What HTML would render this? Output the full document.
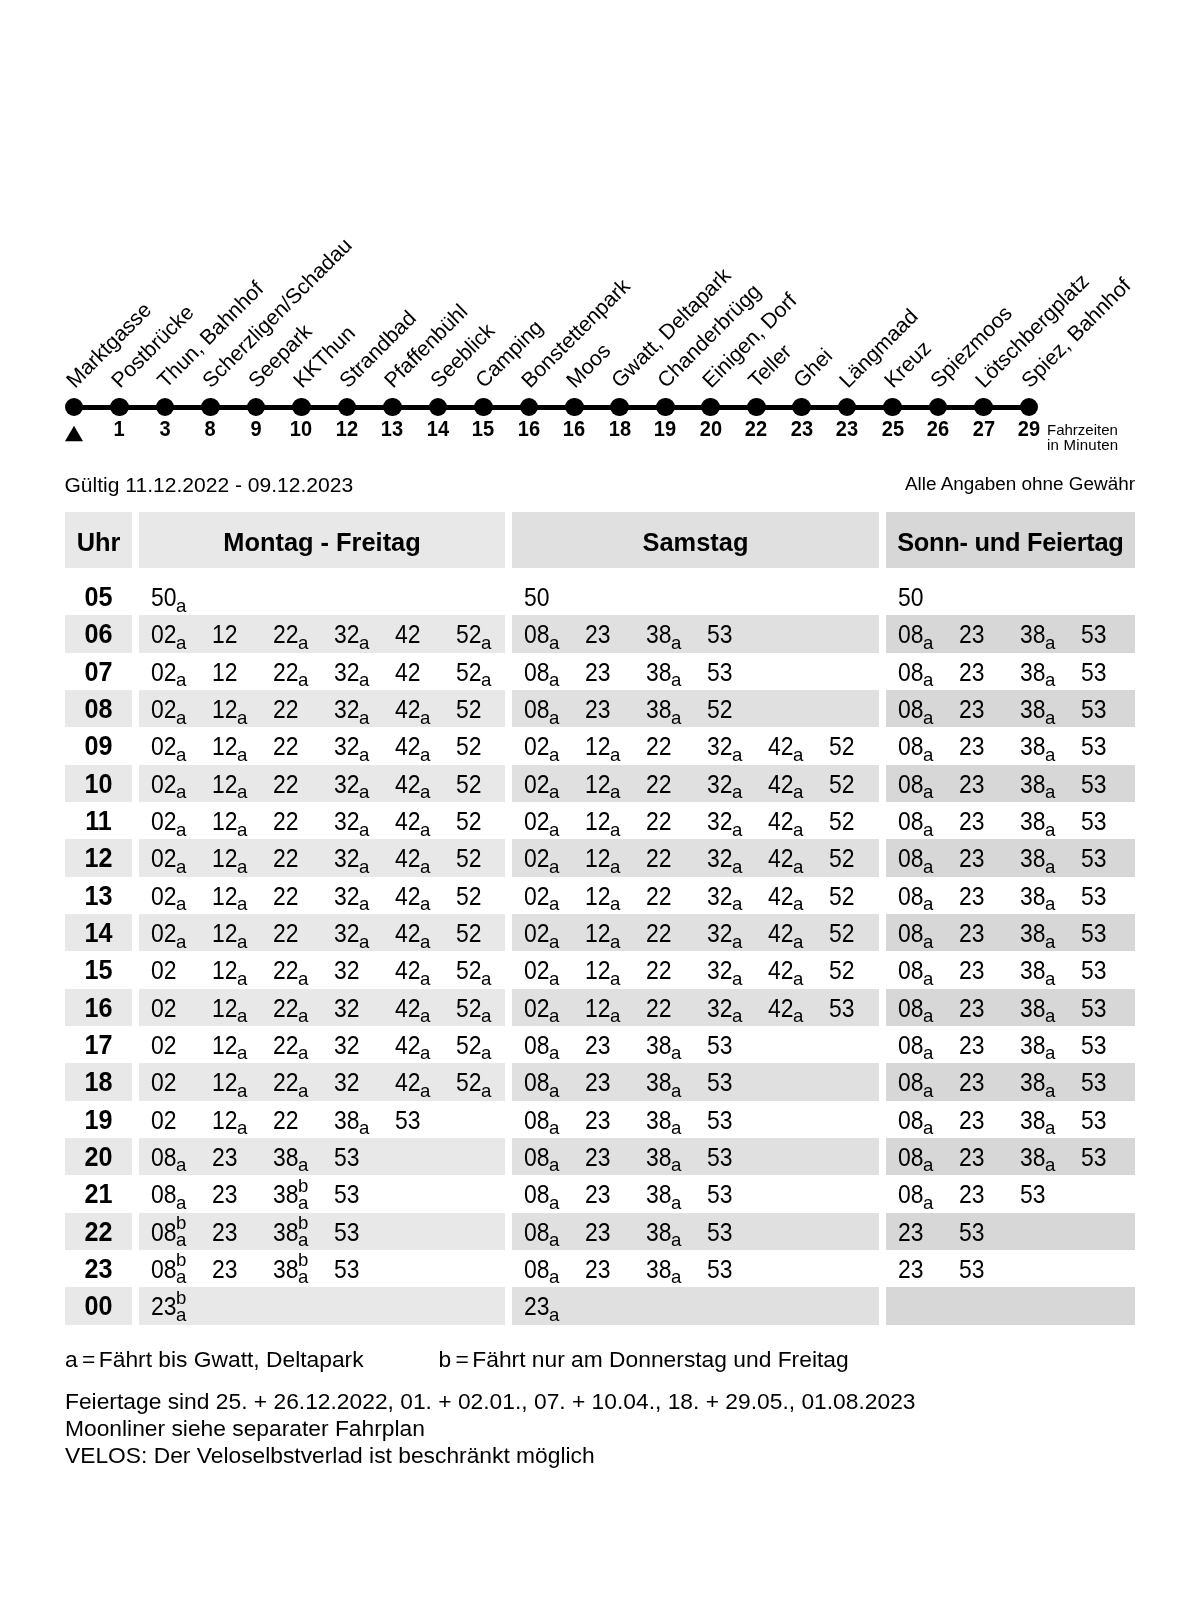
<!DOCTYPE html>
<html lang="de"><head><meta charset="utf-8"><title>Fahrplan</title>
<style>
html,body{margin:0;padding:0;background:#fff;}
body{width:1200px;height:1600px;position:relative;overflow:hidden;font-family:"Liberation Sans",sans-serif;color:#000;}
#sheet{position:absolute;left:0;top:0;width:1200px;height:1600px;will-change:transform;}
.abs{position:absolute;white-space:nowrap;}
.stop{position:absolute;white-space:nowrap;font-size:21.3px;line-height:20px;height:20px;transform-origin:0 100%;transform:rotate(-45deg);}
.dot{position:absolute;width:18.6px;height:18.6px;border-radius:50%;background:#000;top:397.9px;}
.min{position:absolute;width:40px;text-align:center;font-weight:bold;font-size:21.3px;line-height:20px;top:418.62px;transform:scaleX(.94);}
.bg{position:absolute;}
.hd{position:absolute;top:512px;height:56px;line-height:61px;text-align:center;font-weight:bold;font-size:25.4px;}
.hr{position:absolute;left:65px;width:67px;text-align:center;font-weight:bold;font-size:28.3px;line-height:30px;transform:scaleX(0.89);}
.t{position:absolute;font-size:25.2px;line-height:30px;height:30px;white-space:nowrap;}
.t b{font-weight:normal;display:inline-block;transform-origin:0 50%;transform:scaleX(0.91);}
.t i{font-style:normal;font-size:18.6px;position:absolute;left:25.2px;line-height:20px;}
.t i.a{top:13.49px;}
.t i.b{top:-3.51px;}
.ft{position:absolute;left:65px;font-size:22.8px;line-height:27.3px;white-space:nowrap;}
.ft u{text-decoration:none;margin:0 3.6px 0 4.2px;}
</style></head><body><div id="sheet">

<div class="bg" style="left:74px;top:404.9px;width:955px;height:4.8px;background:#000"></div>
<div class="dot" style="left:64.70px"></div>
<div class="stop" style="left:76.70px;top:371.10px">Marktgasse</div>
<div class="dot" style="left:110.18px"></div>
<div class="stop" style="left:122.18px;top:371.10px">Postbrücke</div>
<div class="min" style="left:99.48px">1</div>
<div class="dot" style="left:155.66px"></div>
<div class="stop" style="left:167.66px;top:371.10px">Thun, Bahnhof</div>
<div class="min" style="left:144.96px">3</div>
<div class="dot" style="left:201.14px"></div>
<div class="stop" style="left:213.14px;top:371.10px">Scherzligen/Schadau</div>
<div class="min" style="left:190.44px">8</div>
<div class="dot" style="left:246.62px"></div>
<div class="stop" style="left:258.62px;top:371.10px">Seepark</div>
<div class="min" style="left:235.92px">9</div>
<div class="dot" style="left:292.10px"></div>
<div class="stop" style="left:304.10px;top:371.10px">KKThun</div>
<div class="min" style="left:281.40px">10</div>
<div class="dot" style="left:337.59px"></div>
<div class="stop" style="left:349.59px;top:371.10px">Strandbad</div>
<div class="min" style="left:326.89px">12</div>
<div class="dot" style="left:383.07px"></div>
<div class="stop" style="left:395.07px;top:371.10px">Pfaffenbühl</div>
<div class="min" style="left:372.37px">13</div>
<div class="dot" style="left:428.55px"></div>
<div class="stop" style="left:440.55px;top:371.10px">Seeblick</div>
<div class="min" style="left:417.85px">14</div>
<div class="dot" style="left:474.03px"></div>
<div class="stop" style="left:486.03px;top:371.10px">Camping</div>
<div class="min" style="left:463.33px">15</div>
<div class="dot" style="left:519.51px"></div>
<div class="stop" style="left:531.51px;top:371.10px">Bonstettenpark</div>
<div class="min" style="left:508.81px">16</div>
<div class="dot" style="left:564.99px"></div>
<div class="stop" style="left:576.99px;top:371.10px">Moos</div>
<div class="min" style="left:554.29px">16</div>
<div class="dot" style="left:610.47px"></div>
<div class="stop" style="left:622.47px;top:371.10px">Gwatt, Deltapark</div>
<div class="min" style="left:599.77px">18</div>
<div class="dot" style="left:655.95px"></div>
<div class="stop" style="left:667.95px;top:371.10px">Chanderbrügg</div>
<div class="min" style="left:645.25px">19</div>
<div class="dot" style="left:701.43px"></div>
<div class="stop" style="left:713.43px;top:371.10px">Einigen, Dorf</div>
<div class="min" style="left:690.73px">20</div>
<div class="dot" style="left:746.91px"></div>
<div class="stop" style="left:758.91px;top:371.10px">Teller</div>
<div class="min" style="left:736.21px">22</div>
<div class="dot" style="left:792.40px"></div>
<div class="stop" style="left:804.40px;top:371.10px">Ghei</div>
<div class="min" style="left:781.70px">23</div>
<div class="dot" style="left:837.88px"></div>
<div class="stop" style="left:849.88px;top:371.10px">Längmaad</div>
<div class="min" style="left:827.18px">23</div>
<div class="dot" style="left:883.36px"></div>
<div class="stop" style="left:895.36px;top:371.10px">Kreuz</div>
<div class="min" style="left:872.66px">25</div>
<div class="dot" style="left:928.84px"></div>
<div class="stop" style="left:940.84px;top:371.10px">Spiezmoos</div>
<div class="min" style="left:918.14px">26</div>
<div class="dot" style="left:974.32px"></div>
<div class="stop" style="left:986.32px;top:371.10px">Lötschbergplatz</div>
<div class="min" style="left:963.62px">27</div>
<div class="dot" style="left:1019.80px"></div>
<div class="stop" style="left:1031.80px;top:371.10px">Spiez, Bahnhof</div>
<div class="min" style="left:1009.10px">29</div>
<svg class="abs" style="left:64px;top:424px" width="20" height="18" viewBox="0 0 20 18"><polygon points="10,1.7 19,17.2 1,17.2" fill="#000"/></svg>
<div class="abs" style="left:1047px;top:421.60px;font-size:15px;line-height:15px">Fahrzeiten<br><span style="letter-spacing:.22px">in Minuten</span></div>
<div class="abs" style="left:64.5px;top:473.11px;font-size:21.05px;line-height:24px">Gültig 11.12.2022 - 09.12.2023</div>
<div class="abs" style="right:65px;top:471.95px;font-size:18.9px;line-height:24px">Alle Angaben ohne Gewähr</div>
<div class="hd" style="left:65px;width:67px;background:#e8e8e8">Uhr</div>
<div class="hd" style="left:138.8px;width:366.4px;background:#e8e8e8">Montag - Freitag</div>
<div class="hd" style="left:512.1px;width:366.8px;background:#e0e0e0">Samstag</div>
<div class="hd" style="left:885.6px;width:249.6px;background:#d7d7d7;letter-spacing:-0.27px">Sonn- und Feiertag</div>
<div class="hr" style="top:581.09px">05</div>
<div class="t" style="left:150.9px;top:582.17px"><b>50</b><i class="a">a</i></div>
<div class="t" style="left:523.9px;top:582.17px"><b>50</b></div>
<div class="t" style="left:897.9px;top:582.17px"><b>50</b></div>
<div class="bg" style="left:65px;top:615.42px;width:67px;height:37.4px;background:#e8e8e8"></div>
<div class="bg" style="left:138.8px;top:615.42px;width:366.4px;height:37.4px;background:#e8e8e8"></div>
<div class="bg" style="left:512.1px;top:615.42px;width:366.8px;height:37.4px;background:#e0e0e0"></div>
<div class="bg" style="left:885.6px;top:615.42px;width:249.6px;height:37.4px;background:#d7d7d7"></div>
<div class="hr" style="top:618.41px">06</div>
<div class="t" style="left:150.9px;top:619.49px"><b>02</b><i class="a">a</i></div>
<div class="t" style="left:211.9px;top:619.49px"><b>12</b></div>
<div class="t" style="left:272.9px;top:619.49px"><b>22</b><i class="a">a</i></div>
<div class="t" style="left:333.9px;top:619.49px"><b>32</b><i class="a">a</i></div>
<div class="t" style="left:394.9px;top:619.49px"><b>42</b></div>
<div class="t" style="left:455.9px;top:619.49px"><b>52</b><i class="a">a</i></div>
<div class="t" style="left:523.9px;top:619.49px"><b>08</b><i class="a">a</i></div>
<div class="t" style="left:584.9px;top:619.49px"><b>23</b></div>
<div class="t" style="left:645.9px;top:619.49px"><b>38</b><i class="a">a</i></div>
<div class="t" style="left:706.9px;top:619.49px"><b>53</b></div>
<div class="t" style="left:897.9px;top:619.49px"><b>08</b><i class="a">a</i></div>
<div class="t" style="left:958.9px;top:619.49px"><b>23</b></div>
<div class="t" style="left:1019.9px;top:619.49px"><b>38</b><i class="a">a</i></div>
<div class="t" style="left:1080.9px;top:619.49px"><b>53</b></div>
<div class="hr" style="top:655.73px">07</div>
<div class="t" style="left:150.9px;top:656.81px"><b>02</b><i class="a">a</i></div>
<div class="t" style="left:211.9px;top:656.81px"><b>12</b></div>
<div class="t" style="left:272.9px;top:656.81px"><b>22</b><i class="a">a</i></div>
<div class="t" style="left:333.9px;top:656.81px"><b>32</b><i class="a">a</i></div>
<div class="t" style="left:394.9px;top:656.81px"><b>42</b></div>
<div class="t" style="left:455.9px;top:656.81px"><b>52</b><i class="a">a</i></div>
<div class="t" style="left:523.9px;top:656.81px"><b>08</b><i class="a">a</i></div>
<div class="t" style="left:584.9px;top:656.81px"><b>23</b></div>
<div class="t" style="left:645.9px;top:656.81px"><b>38</b><i class="a">a</i></div>
<div class="t" style="left:706.9px;top:656.81px"><b>53</b></div>
<div class="t" style="left:897.9px;top:656.81px"><b>08</b><i class="a">a</i></div>
<div class="t" style="left:958.9px;top:656.81px"><b>23</b></div>
<div class="t" style="left:1019.9px;top:656.81px"><b>38</b><i class="a">a</i></div>
<div class="t" style="left:1080.9px;top:656.81px"><b>53</b></div>
<div class="bg" style="left:65px;top:690.06px;width:67px;height:37.4px;background:#e8e8e8"></div>
<div class="bg" style="left:138.8px;top:690.06px;width:366.4px;height:37.4px;background:#e8e8e8"></div>
<div class="bg" style="left:512.1px;top:690.06px;width:366.8px;height:37.4px;background:#e0e0e0"></div>
<div class="bg" style="left:885.6px;top:690.06px;width:249.6px;height:37.4px;background:#d7d7d7"></div>
<div class="hr" style="top:693.05px">08</div>
<div class="t" style="left:150.9px;top:694.13px"><b>02</b><i class="a">a</i></div>
<div class="t" style="left:211.9px;top:694.13px"><b>12</b><i class="a">a</i></div>
<div class="t" style="left:272.9px;top:694.13px"><b>22</b></div>
<div class="t" style="left:333.9px;top:694.13px"><b>32</b><i class="a">a</i></div>
<div class="t" style="left:394.9px;top:694.13px"><b>42</b><i class="a">a</i></div>
<div class="t" style="left:455.9px;top:694.13px"><b>52</b></div>
<div class="t" style="left:523.9px;top:694.13px"><b>08</b><i class="a">a</i></div>
<div class="t" style="left:584.9px;top:694.13px"><b>23</b></div>
<div class="t" style="left:645.9px;top:694.13px"><b>38</b><i class="a">a</i></div>
<div class="t" style="left:706.9px;top:694.13px"><b>52</b></div>
<div class="t" style="left:897.9px;top:694.13px"><b>08</b><i class="a">a</i></div>
<div class="t" style="left:958.9px;top:694.13px"><b>23</b></div>
<div class="t" style="left:1019.9px;top:694.13px"><b>38</b><i class="a">a</i></div>
<div class="t" style="left:1080.9px;top:694.13px"><b>53</b></div>
<div class="hr" style="top:730.37px">09</div>
<div class="t" style="left:150.9px;top:731.45px"><b>02</b><i class="a">a</i></div>
<div class="t" style="left:211.9px;top:731.45px"><b>12</b><i class="a">a</i></div>
<div class="t" style="left:272.9px;top:731.45px"><b>22</b></div>
<div class="t" style="left:333.9px;top:731.45px"><b>32</b><i class="a">a</i></div>
<div class="t" style="left:394.9px;top:731.45px"><b>42</b><i class="a">a</i></div>
<div class="t" style="left:455.9px;top:731.45px"><b>52</b></div>
<div class="t" style="left:523.9px;top:731.45px"><b>02</b><i class="a">a</i></div>
<div class="t" style="left:584.9px;top:731.45px"><b>12</b><i class="a">a</i></div>
<div class="t" style="left:645.9px;top:731.45px"><b>22</b></div>
<div class="t" style="left:706.9px;top:731.45px"><b>32</b><i class="a">a</i></div>
<div class="t" style="left:767.9px;top:731.45px"><b>42</b><i class="a">a</i></div>
<div class="t" style="left:828.9px;top:731.45px"><b>52</b></div>
<div class="t" style="left:897.9px;top:731.45px"><b>08</b><i class="a">a</i></div>
<div class="t" style="left:958.9px;top:731.45px"><b>23</b></div>
<div class="t" style="left:1019.9px;top:731.45px"><b>38</b><i class="a">a</i></div>
<div class="t" style="left:1080.9px;top:731.45px"><b>53</b></div>
<div class="bg" style="left:65px;top:764.70px;width:67px;height:37.4px;background:#e8e8e8"></div>
<div class="bg" style="left:138.8px;top:764.70px;width:366.4px;height:37.4px;background:#e8e8e8"></div>
<div class="bg" style="left:512.1px;top:764.70px;width:366.8px;height:37.4px;background:#e0e0e0"></div>
<div class="bg" style="left:885.6px;top:764.70px;width:249.6px;height:37.4px;background:#d7d7d7"></div>
<div class="hr" style="top:767.69px">10</div>
<div class="t" style="left:150.9px;top:768.77px"><b>02</b><i class="a">a</i></div>
<div class="t" style="left:211.9px;top:768.77px"><b>12</b><i class="a">a</i></div>
<div class="t" style="left:272.9px;top:768.77px"><b>22</b></div>
<div class="t" style="left:333.9px;top:768.77px"><b>32</b><i class="a">a</i></div>
<div class="t" style="left:394.9px;top:768.77px"><b>42</b><i class="a">a</i></div>
<div class="t" style="left:455.9px;top:768.77px"><b>52</b></div>
<div class="t" style="left:523.9px;top:768.77px"><b>02</b><i class="a">a</i></div>
<div class="t" style="left:584.9px;top:768.77px"><b>12</b><i class="a">a</i></div>
<div class="t" style="left:645.9px;top:768.77px"><b>22</b></div>
<div class="t" style="left:706.9px;top:768.77px"><b>32</b><i class="a">a</i></div>
<div class="t" style="left:767.9px;top:768.77px"><b>42</b><i class="a">a</i></div>
<div class="t" style="left:828.9px;top:768.77px"><b>52</b></div>
<div class="t" style="left:897.9px;top:768.77px"><b>08</b><i class="a">a</i></div>
<div class="t" style="left:958.9px;top:768.77px"><b>23</b></div>
<div class="t" style="left:1019.9px;top:768.77px"><b>38</b><i class="a">a</i></div>
<div class="t" style="left:1080.9px;top:768.77px"><b>53</b></div>
<div class="hr" style="top:805.01px">11</div>
<div class="t" style="left:150.9px;top:806.09px"><b>02</b><i class="a">a</i></div>
<div class="t" style="left:211.9px;top:806.09px"><b>12</b><i class="a">a</i></div>
<div class="t" style="left:272.9px;top:806.09px"><b>22</b></div>
<div class="t" style="left:333.9px;top:806.09px"><b>32</b><i class="a">a</i></div>
<div class="t" style="left:394.9px;top:806.09px"><b>42</b><i class="a">a</i></div>
<div class="t" style="left:455.9px;top:806.09px"><b>52</b></div>
<div class="t" style="left:523.9px;top:806.09px"><b>02</b><i class="a">a</i></div>
<div class="t" style="left:584.9px;top:806.09px"><b>12</b><i class="a">a</i></div>
<div class="t" style="left:645.9px;top:806.09px"><b>22</b></div>
<div class="t" style="left:706.9px;top:806.09px"><b>32</b><i class="a">a</i></div>
<div class="t" style="left:767.9px;top:806.09px"><b>42</b><i class="a">a</i></div>
<div class="t" style="left:828.9px;top:806.09px"><b>52</b></div>
<div class="t" style="left:897.9px;top:806.09px"><b>08</b><i class="a">a</i></div>
<div class="t" style="left:958.9px;top:806.09px"><b>23</b></div>
<div class="t" style="left:1019.9px;top:806.09px"><b>38</b><i class="a">a</i></div>
<div class="t" style="left:1080.9px;top:806.09px"><b>53</b></div>
<div class="bg" style="left:65px;top:839.34px;width:67px;height:37.4px;background:#e8e8e8"></div>
<div class="bg" style="left:138.8px;top:839.34px;width:366.4px;height:37.4px;background:#e8e8e8"></div>
<div class="bg" style="left:512.1px;top:839.34px;width:366.8px;height:37.4px;background:#e0e0e0"></div>
<div class="bg" style="left:885.6px;top:839.34px;width:249.6px;height:37.4px;background:#d7d7d7"></div>
<div class="hr" style="top:842.33px">12</div>
<div class="t" style="left:150.9px;top:843.41px"><b>02</b><i class="a">a</i></div>
<div class="t" style="left:211.9px;top:843.41px"><b>12</b><i class="a">a</i></div>
<div class="t" style="left:272.9px;top:843.41px"><b>22</b></div>
<div class="t" style="left:333.9px;top:843.41px"><b>32</b><i class="a">a</i></div>
<div class="t" style="left:394.9px;top:843.41px"><b>42</b><i class="a">a</i></div>
<div class="t" style="left:455.9px;top:843.41px"><b>52</b></div>
<div class="t" style="left:523.9px;top:843.41px"><b>02</b><i class="a">a</i></div>
<div class="t" style="left:584.9px;top:843.41px"><b>12</b><i class="a">a</i></div>
<div class="t" style="left:645.9px;top:843.41px"><b>22</b></div>
<div class="t" style="left:706.9px;top:843.41px"><b>32</b><i class="a">a</i></div>
<div class="t" style="left:767.9px;top:843.41px"><b>42</b><i class="a">a</i></div>
<div class="t" style="left:828.9px;top:843.41px"><b>52</b></div>
<div class="t" style="left:897.9px;top:843.41px"><b>08</b><i class="a">a</i></div>
<div class="t" style="left:958.9px;top:843.41px"><b>23</b></div>
<div class="t" style="left:1019.9px;top:843.41px"><b>38</b><i class="a">a</i></div>
<div class="t" style="left:1080.9px;top:843.41px"><b>53</b></div>
<div class="hr" style="top:879.65px">13</div>
<div class="t" style="left:150.9px;top:880.73px"><b>02</b><i class="a">a</i></div>
<div class="t" style="left:211.9px;top:880.73px"><b>12</b><i class="a">a</i></div>
<div class="t" style="left:272.9px;top:880.73px"><b>22</b></div>
<div class="t" style="left:333.9px;top:880.73px"><b>32</b><i class="a">a</i></div>
<div class="t" style="left:394.9px;top:880.73px"><b>42</b><i class="a">a</i></div>
<div class="t" style="left:455.9px;top:880.73px"><b>52</b></div>
<div class="t" style="left:523.9px;top:880.73px"><b>02</b><i class="a">a</i></div>
<div class="t" style="left:584.9px;top:880.73px"><b>12</b><i class="a">a</i></div>
<div class="t" style="left:645.9px;top:880.73px"><b>22</b></div>
<div class="t" style="left:706.9px;top:880.73px"><b>32</b><i class="a">a</i></div>
<div class="t" style="left:767.9px;top:880.73px"><b>42</b><i class="a">a</i></div>
<div class="t" style="left:828.9px;top:880.73px"><b>52</b></div>
<div class="t" style="left:897.9px;top:880.73px"><b>08</b><i class="a">a</i></div>
<div class="t" style="left:958.9px;top:880.73px"><b>23</b></div>
<div class="t" style="left:1019.9px;top:880.73px"><b>38</b><i class="a">a</i></div>
<div class="t" style="left:1080.9px;top:880.73px"><b>53</b></div>
<div class="bg" style="left:65px;top:913.98px;width:67px;height:37.4px;background:#e8e8e8"></div>
<div class="bg" style="left:138.8px;top:913.98px;width:366.4px;height:37.4px;background:#e8e8e8"></div>
<div class="bg" style="left:512.1px;top:913.98px;width:366.8px;height:37.4px;background:#e0e0e0"></div>
<div class="bg" style="left:885.6px;top:913.98px;width:249.6px;height:37.4px;background:#d7d7d7"></div>
<div class="hr" style="top:916.97px">14</div>
<div class="t" style="left:150.9px;top:918.05px"><b>02</b><i class="a">a</i></div>
<div class="t" style="left:211.9px;top:918.05px"><b>12</b><i class="a">a</i></div>
<div class="t" style="left:272.9px;top:918.05px"><b>22</b></div>
<div class="t" style="left:333.9px;top:918.05px"><b>32</b><i class="a">a</i></div>
<div class="t" style="left:394.9px;top:918.05px"><b>42</b><i class="a">a</i></div>
<div class="t" style="left:455.9px;top:918.05px"><b>52</b></div>
<div class="t" style="left:523.9px;top:918.05px"><b>02</b><i class="a">a</i></div>
<div class="t" style="left:584.9px;top:918.05px"><b>12</b><i class="a">a</i></div>
<div class="t" style="left:645.9px;top:918.05px"><b>22</b></div>
<div class="t" style="left:706.9px;top:918.05px"><b>32</b><i class="a">a</i></div>
<div class="t" style="left:767.9px;top:918.05px"><b>42</b><i class="a">a</i></div>
<div class="t" style="left:828.9px;top:918.05px"><b>52</b></div>
<div class="t" style="left:897.9px;top:918.05px"><b>08</b><i class="a">a</i></div>
<div class="t" style="left:958.9px;top:918.05px"><b>23</b></div>
<div class="t" style="left:1019.9px;top:918.05px"><b>38</b><i class="a">a</i></div>
<div class="t" style="left:1080.9px;top:918.05px"><b>53</b></div>
<div class="hr" style="top:954.29px">15</div>
<div class="t" style="left:150.9px;top:955.37px"><b>02</b></div>
<div class="t" style="left:211.9px;top:955.37px"><b>12</b><i class="a">a</i></div>
<div class="t" style="left:272.9px;top:955.37px"><b>22</b><i class="a">a</i></div>
<div class="t" style="left:333.9px;top:955.37px"><b>32</b></div>
<div class="t" style="left:394.9px;top:955.37px"><b>42</b><i class="a">a</i></div>
<div class="t" style="left:455.9px;top:955.37px"><b>52</b><i class="a">a</i></div>
<div class="t" style="left:523.9px;top:955.37px"><b>02</b><i class="a">a</i></div>
<div class="t" style="left:584.9px;top:955.37px"><b>12</b><i class="a">a</i></div>
<div class="t" style="left:645.9px;top:955.37px"><b>22</b></div>
<div class="t" style="left:706.9px;top:955.37px"><b>32</b><i class="a">a</i></div>
<div class="t" style="left:767.9px;top:955.37px"><b>42</b><i class="a">a</i></div>
<div class="t" style="left:828.9px;top:955.37px"><b>52</b></div>
<div class="t" style="left:897.9px;top:955.37px"><b>08</b><i class="a">a</i></div>
<div class="t" style="left:958.9px;top:955.37px"><b>23</b></div>
<div class="t" style="left:1019.9px;top:955.37px"><b>38</b><i class="a">a</i></div>
<div class="t" style="left:1080.9px;top:955.37px"><b>53</b></div>
<div class="bg" style="left:65px;top:988.62px;width:67px;height:37.4px;background:#e8e8e8"></div>
<div class="bg" style="left:138.8px;top:988.62px;width:366.4px;height:37.4px;background:#e8e8e8"></div>
<div class="bg" style="left:512.1px;top:988.62px;width:366.8px;height:37.4px;background:#e0e0e0"></div>
<div class="bg" style="left:885.6px;top:988.62px;width:249.6px;height:37.4px;background:#d7d7d7"></div>
<div class="hr" style="top:991.61px">16</div>
<div class="t" style="left:150.9px;top:992.69px"><b>02</b></div>
<div class="t" style="left:211.9px;top:992.69px"><b>12</b><i class="a">a</i></div>
<div class="t" style="left:272.9px;top:992.69px"><b>22</b><i class="a">a</i></div>
<div class="t" style="left:333.9px;top:992.69px"><b>32</b></div>
<div class="t" style="left:394.9px;top:992.69px"><b>42</b><i class="a">a</i></div>
<div class="t" style="left:455.9px;top:992.69px"><b>52</b><i class="a">a</i></div>
<div class="t" style="left:523.9px;top:992.69px"><b>02</b><i class="a">a</i></div>
<div class="t" style="left:584.9px;top:992.69px"><b>12</b><i class="a">a</i></div>
<div class="t" style="left:645.9px;top:992.69px"><b>22</b></div>
<div class="t" style="left:706.9px;top:992.69px"><b>32</b><i class="a">a</i></div>
<div class="t" style="left:767.9px;top:992.69px"><b>42</b><i class="a">a</i></div>
<div class="t" style="left:828.9px;top:992.69px"><b>53</b></div>
<div class="t" style="left:897.9px;top:992.69px"><b>08</b><i class="a">a</i></div>
<div class="t" style="left:958.9px;top:992.69px"><b>23</b></div>
<div class="t" style="left:1019.9px;top:992.69px"><b>38</b><i class="a">a</i></div>
<div class="t" style="left:1080.9px;top:992.69px"><b>53</b></div>
<div class="hr" style="top:1028.93px">17</div>
<div class="t" style="left:150.9px;top:1030.01px"><b>02</b></div>
<div class="t" style="left:211.9px;top:1030.01px"><b>12</b><i class="a">a</i></div>
<div class="t" style="left:272.9px;top:1030.01px"><b>22</b><i class="a">a</i></div>
<div class="t" style="left:333.9px;top:1030.01px"><b>32</b></div>
<div class="t" style="left:394.9px;top:1030.01px"><b>42</b><i class="a">a</i></div>
<div class="t" style="left:455.9px;top:1030.01px"><b>52</b><i class="a">a</i></div>
<div class="t" style="left:523.9px;top:1030.01px"><b>08</b><i class="a">a</i></div>
<div class="t" style="left:584.9px;top:1030.01px"><b>23</b></div>
<div class="t" style="left:645.9px;top:1030.01px"><b>38</b><i class="a">a</i></div>
<div class="t" style="left:706.9px;top:1030.01px"><b>53</b></div>
<div class="t" style="left:897.9px;top:1030.01px"><b>08</b><i class="a">a</i></div>
<div class="t" style="left:958.9px;top:1030.01px"><b>23</b></div>
<div class="t" style="left:1019.9px;top:1030.01px"><b>38</b><i class="a">a</i></div>
<div class="t" style="left:1080.9px;top:1030.01px"><b>53</b></div>
<div class="bg" style="left:65px;top:1063.26px;width:67px;height:37.4px;background:#e8e8e8"></div>
<div class="bg" style="left:138.8px;top:1063.26px;width:366.4px;height:37.4px;background:#e8e8e8"></div>
<div class="bg" style="left:512.1px;top:1063.26px;width:366.8px;height:37.4px;background:#e0e0e0"></div>
<div class="bg" style="left:885.6px;top:1063.26px;width:249.6px;height:37.4px;background:#d7d7d7"></div>
<div class="hr" style="top:1066.25px">18</div>
<div class="t" style="left:150.9px;top:1067.33px"><b>02</b></div>
<div class="t" style="left:211.9px;top:1067.33px"><b>12</b><i class="a">a</i></div>
<div class="t" style="left:272.9px;top:1067.33px"><b>22</b><i class="a">a</i></div>
<div class="t" style="left:333.9px;top:1067.33px"><b>32</b></div>
<div class="t" style="left:394.9px;top:1067.33px"><b>42</b><i class="a">a</i></div>
<div class="t" style="left:455.9px;top:1067.33px"><b>52</b><i class="a">a</i></div>
<div class="t" style="left:523.9px;top:1067.33px"><b>08</b><i class="a">a</i></div>
<div class="t" style="left:584.9px;top:1067.33px"><b>23</b></div>
<div class="t" style="left:645.9px;top:1067.33px"><b>38</b><i class="a">a</i></div>
<div class="t" style="left:706.9px;top:1067.33px"><b>53</b></div>
<div class="t" style="left:897.9px;top:1067.33px"><b>08</b><i class="a">a</i></div>
<div class="t" style="left:958.9px;top:1067.33px"><b>23</b></div>
<div class="t" style="left:1019.9px;top:1067.33px"><b>38</b><i class="a">a</i></div>
<div class="t" style="left:1080.9px;top:1067.33px"><b>53</b></div>
<div class="hr" style="top:1103.57px">19</div>
<div class="t" style="left:150.9px;top:1104.65px"><b>02</b></div>
<div class="t" style="left:211.9px;top:1104.65px"><b>12</b><i class="a">a</i></div>
<div class="t" style="left:272.9px;top:1104.65px"><b>22</b></div>
<div class="t" style="left:333.9px;top:1104.65px"><b>38</b><i class="a">a</i></div>
<div class="t" style="left:394.9px;top:1104.65px"><b>53</b></div>
<div class="t" style="left:523.9px;top:1104.65px"><b>08</b><i class="a">a</i></div>
<div class="t" style="left:584.9px;top:1104.65px"><b>23</b></div>
<div class="t" style="left:645.9px;top:1104.65px"><b>38</b><i class="a">a</i></div>
<div class="t" style="left:706.9px;top:1104.65px"><b>53</b></div>
<div class="t" style="left:897.9px;top:1104.65px"><b>08</b><i class="a">a</i></div>
<div class="t" style="left:958.9px;top:1104.65px"><b>23</b></div>
<div class="t" style="left:1019.9px;top:1104.65px"><b>38</b><i class="a">a</i></div>
<div class="t" style="left:1080.9px;top:1104.65px"><b>53</b></div>
<div class="bg" style="left:65px;top:1137.90px;width:67px;height:37.4px;background:#e8e8e8"></div>
<div class="bg" style="left:138.8px;top:1137.90px;width:366.4px;height:37.4px;background:#e8e8e8"></div>
<div class="bg" style="left:512.1px;top:1137.90px;width:366.8px;height:37.4px;background:#e0e0e0"></div>
<div class="bg" style="left:885.6px;top:1137.90px;width:249.6px;height:37.4px;background:#d7d7d7"></div>
<div class="hr" style="top:1140.89px">20</div>
<div class="t" style="left:150.9px;top:1141.97px"><b>08</b><i class="a">a</i></div>
<div class="t" style="left:211.9px;top:1141.97px"><b>23</b></div>
<div class="t" style="left:272.9px;top:1141.97px"><b>38</b><i class="a">a</i></div>
<div class="t" style="left:333.9px;top:1141.97px"><b>53</b></div>
<div class="t" style="left:523.9px;top:1141.97px"><b>08</b><i class="a">a</i></div>
<div class="t" style="left:584.9px;top:1141.97px"><b>23</b></div>
<div class="t" style="left:645.9px;top:1141.97px"><b>38</b><i class="a">a</i></div>
<div class="t" style="left:706.9px;top:1141.97px"><b>53</b></div>
<div class="t" style="left:897.9px;top:1141.97px"><b>08</b><i class="a">a</i></div>
<div class="t" style="left:958.9px;top:1141.97px"><b>23</b></div>
<div class="t" style="left:1019.9px;top:1141.97px"><b>38</b><i class="a">a</i></div>
<div class="t" style="left:1080.9px;top:1141.97px"><b>53</b></div>
<div class="hr" style="top:1178.21px">21</div>
<div class="t" style="left:150.9px;top:1179.29px"><b>08</b><i class="a">a</i></div>
<div class="t" style="left:211.9px;top:1179.29px"><b>23</b></div>
<div class="t" style="left:272.9px;top:1179.29px"><b>38</b><i class="a">a</i><i class="b">b</i></div>
<div class="t" style="left:333.9px;top:1179.29px"><b>53</b></div>
<div class="t" style="left:523.9px;top:1179.29px"><b>08</b><i class="a">a</i></div>
<div class="t" style="left:584.9px;top:1179.29px"><b>23</b></div>
<div class="t" style="left:645.9px;top:1179.29px"><b>38</b><i class="a">a</i></div>
<div class="t" style="left:706.9px;top:1179.29px"><b>53</b></div>
<div class="t" style="left:897.9px;top:1179.29px"><b>08</b><i class="a">a</i></div>
<div class="t" style="left:958.9px;top:1179.29px"><b>23</b></div>
<div class="t" style="left:1019.9px;top:1179.29px"><b>53</b></div>
<div class="bg" style="left:65px;top:1212.54px;width:67px;height:37.4px;background:#e8e8e8"></div>
<div class="bg" style="left:138.8px;top:1212.54px;width:366.4px;height:37.4px;background:#e8e8e8"></div>
<div class="bg" style="left:512.1px;top:1212.54px;width:366.8px;height:37.4px;background:#e0e0e0"></div>
<div class="bg" style="left:885.6px;top:1212.54px;width:249.6px;height:37.4px;background:#d7d7d7"></div>
<div class="hr" style="top:1215.53px">22</div>
<div class="t" style="left:150.9px;top:1216.61px"><b>08</b><i class="a">a</i><i class="b">b</i></div>
<div class="t" style="left:211.9px;top:1216.61px"><b>23</b></div>
<div class="t" style="left:272.9px;top:1216.61px"><b>38</b><i class="a">a</i><i class="b">b</i></div>
<div class="t" style="left:333.9px;top:1216.61px"><b>53</b></div>
<div class="t" style="left:523.9px;top:1216.61px"><b>08</b><i class="a">a</i></div>
<div class="t" style="left:584.9px;top:1216.61px"><b>23</b></div>
<div class="t" style="left:645.9px;top:1216.61px"><b>38</b><i class="a">a</i></div>
<div class="t" style="left:706.9px;top:1216.61px"><b>53</b></div>
<div class="t" style="left:897.9px;top:1216.61px"><b>23</b></div>
<div class="t" style="left:958.9px;top:1216.61px"><b>53</b></div>
<div class="hr" style="top:1252.85px">23</div>
<div class="t" style="left:150.9px;top:1253.93px"><b>08</b><i class="a">a</i><i class="b">b</i></div>
<div class="t" style="left:211.9px;top:1253.93px"><b>23</b></div>
<div class="t" style="left:272.9px;top:1253.93px"><b>38</b><i class="a">a</i><i class="b">b</i></div>
<div class="t" style="left:333.9px;top:1253.93px"><b>53</b></div>
<div class="t" style="left:523.9px;top:1253.93px"><b>08</b><i class="a">a</i></div>
<div class="t" style="left:584.9px;top:1253.93px"><b>23</b></div>
<div class="t" style="left:645.9px;top:1253.93px"><b>38</b><i class="a">a</i></div>
<div class="t" style="left:706.9px;top:1253.93px"><b>53</b></div>
<div class="t" style="left:897.9px;top:1253.93px"><b>23</b></div>
<div class="t" style="left:958.9px;top:1253.93px"><b>53</b></div>
<div class="bg" style="left:65px;top:1287.18px;width:67px;height:37.4px;background:#e8e8e8"></div>
<div class="bg" style="left:138.8px;top:1287.18px;width:366.4px;height:37.4px;background:#e8e8e8"></div>
<div class="bg" style="left:512.1px;top:1287.18px;width:366.8px;height:37.4px;background:#e0e0e0"></div>
<div class="bg" style="left:885.6px;top:1287.18px;width:249.6px;height:37.4px;background:#d7d7d7"></div>
<div class="hr" style="top:1290.17px">00</div>
<div class="t" style="left:150.9px;top:1291.25px"><b>23</b><i class="a">a</i><i class="b">b</i></div>
<div class="t" style="left:523.9px;top:1291.25px"><b>23</b><i class="a">a</i></div>
<div class="ft" style="top:1345.95px">a<u>=</u>Fährt bis Gwatt, Deltapark</div>
<div class="ft" style="top:1345.95px;left:438.5px">b<u>=</u>Fährt nur am Donnerstag und Freitag</div>
<div class="ft" style="top:1387.55px">Feiertage sind 25. + 26.12.2022, 01. + 02.01., 07. + 10.04., 18. + 29.05., 01.08.2023<br>Moonliner siehe separater Fahrplan<br>VELOS: Der Veloselbstverlad ist beschränkt möglich</div>
</div></body></html>
